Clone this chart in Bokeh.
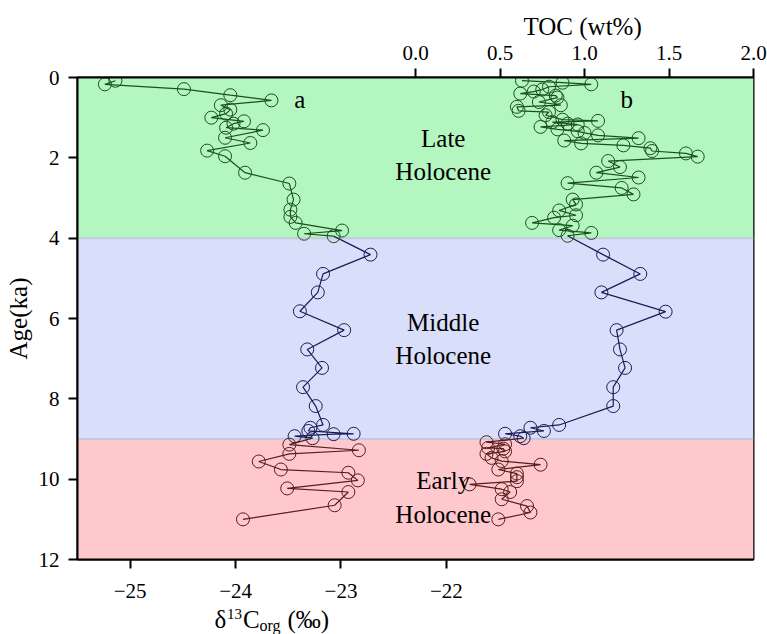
from bokeh.plotting import figure
from bokeh.layouts import column
from bokeh.models import Range1d, LinearAxis, BoxAnnotation, Span, Label, FixedTicker
from bokeh.core.properties import value
from bokeh.embed import file_html
from bokeh.resources import INLINE

# ---- data ----
d13c_late_age = [0.08, 0.17, 0.29, 0.44, 0.57, 0.69, 0.80, 0.90, 1.00, 1.09, 1.15, 1.25, 1.31,
                 1.50, 1.63, 1.82, 1.96, 2.37, 2.64, 3.04, 3.29, 3.47, 3.62, 3.81, 3.89, 3.95]
d13c_late = [-25.14, -25.24, -24.49, -24.05, -23.66, -24.14, -24.05, -24.09, -24.23, -23.92, -24.02,
             -24.09, -23.74, -24.10, -23.86, -24.27, -24.10, -23.91, -23.49, -23.45, -23.48, -23.48,
             -23.43, -22.99, -23.35, -23.07]
d13c_mid_age = [4.41, 4.89, 5.35, 5.82, 6.29, 6.77, 7.23, 7.71, 8.18, 8.65, 8.72, 8.80, 8.87, 8.88, 8.93, 8.98]
d13c_mid = [-22.72, -23.17, -23.22, -23.39, -22.97, -23.32, -23.18, -23.36, -23.24, -23.17, -23.29,
            -23.31, -22.88, -23.07, -23.44, -23.27]
d13c_early_age = [9.14, 9.28, 9.37, 9.56, 9.76, 9.84, 10.03, 10.23, 10.32, 10.65, 11.00]
d13c_early = [-23.49, -22.83, -23.49, -23.78, -23.57, -22.93, -22.84, -23.51, -22.93, -23.06, -23.93]

toc_late_age = [0.08, 0.13, 0.17, 0.23, 0.30, 0.35, 0.40, 0.45, 0.50, 0.61, 0.69, 0.73, 0.83, 0.86,
                0.94, 1.05, 1.08, 1.11, 1.15, 1.17, 1.23, 1.29, 1.34, 1.38, 1.44, 1.51, 1.57, 1.64,
                1.69, 1.76, 1.83, 1.89, 1.97, 2.08, 2.23, 2.37, 2.49, 2.63, 2.75, 2.91, 3.04, 3.16,
                3.31, 3.43, 3.49, 3.62, 3.69, 3.80, 3.87, 3.94]
toc_late = [0.63, 0.87, 1.04, 0.79, 0.75, 0.70, 0.62, 0.83, 0.84, 0.73, 0.86, 0.60, 0.61, 0.79,
            0.77, 0.87, 1.08, 0.81, 0.90, 0.96, 0.74, 0.84, 0.96, 1.00, 1.08, 1.32, 0.88, 0.98,
            1.23, 1.39, 1.40, 1.60, 1.67, 1.14, 1.21, 1.07, 1.32, 0.90, 1.22, 1.29, 0.93, 0.95,
            0.85, 0.95, 0.82, 0.69, 0.93, 0.85, 1.04, 0.90]
toc_mid_age = [4.41, 4.89, 5.35, 5.83, 6.29, 6.77, 7.23, 7.71, 8.18, 8.65, 8.72, 8.80, 8.87, 8.93, 8.98]
toc_mid = [1.11, 1.33, 1.10, 1.48, 1.19, 1.21, 1.24, 1.17, 1.17, 0.85, 0.68, 0.76, 0.53, 0.62, 0.64]
toc_early_age = [9.08, 9.13, 9.22, 9.24, 9.31, 9.37, 9.47, 9.55, 9.64, 9.76, 9.86, 9.95, 10.05,
                 10.13, 10.25, 10.32, 10.50, 10.67, 10.83, 11.00]
toc_early = [0.42, 0.53, 0.43, 0.52, 0.53, 0.42, 0.45, 0.51, 0.74, 0.49, 0.60, 0.60, 0.60,
             0.32, 0.51, 0.56, 0.51, 0.66, 0.68, 0.49]

zones = [(0, 4, "#b3f6c0"), (4, 9, "#d9defa"), (9, 12, "#ffc8cc")]
zone_names = [("Late", "Holocene", 1.51, 2.34), ("Middle", "Holocene", 6.10, 6.91), ("Early", "Holocene", 10.03, 10.88)]
d13c_ticks = [-25, -24, -23, -22]
toc_ticks = [0, 0.5, 1.0, 1.5, 2.0]
age_ticks = [0, 2, 4, 6, 8, 10, 12]
xtitle_main = ["\u03b4", "C", "(\u2030)"]
xtitle_sup = ["13"]
xtitle_sub = ["org"]

SERIF = "Liberation Serif"
C_LATE, C_MID, C_EARLY = "#1d4f1d", "#1c1c55", "#5a1c1c"
X_RANGE = (-25.5, -19.086)

p = figure(width=767, height=604, output_backend="svg", toolbar_location=None,
           x_range=Range1d(*X_RANGE), y_range=Range1d(12, 0),
           min_border_left=77, min_border_right=14, min_border_top=77, min_border_bottom=45)
p.extra_x_ranges = {"toc": Range1d(-2, 2)}
p.xgrid.visible = False
p.ygrid.visible = False
p.outline_line_color = "black"
p.outline_line_width = 2
p.outline_line_alpha = 1
p.background_fill_color = "white"
p.border_fill_color = "white"

bottom = p.below[0]
left = p.left[0]
top = LinearAxis(x_range_name="toc")
p.add_layout(top, "above")

def style_axis(ax):
    ax.axis_line_color = "black"
    ax.axis_line_width = 2
    ax.major_tick_line_width = 2
    ax.major_tick_line_color = "black"
    ax.major_tick_out = 9
    ax.major_tick_in = 0
    ax.minor_tick_out = 0
    ax.minor_tick_in = 0
    ax.minor_tick_line_color = None
    ax.major_label_text_font = SERIF
    ax.major_label_text_font_size = "21px"
    ax.major_label_text_color = "black"
    ax.major_label_standoff = 9
    ax.axis_label_text_font = SERIF
    ax.axis_label_text_font_size = "25px"
    ax.axis_label_text_font_style = "normal"
    ax.axis_label_text_color = "black"

for ax in (bottom, left, top):
    style_axis(ax)

bottom.ticker = FixedTicker(ticks=d13c_ticks)
bottom.major_label_overrides = {t: "\u2212" + str(abs(t)) for t in d13c_ticks}
bottom.major_label_standoff = 15
top.ticker = FixedTicker(ticks=toc_ticks)
top.major_label_overrides = {t: "%.1f" % t for t in toc_ticks}
left.ticker = FixedTicker(ticks=age_ticks)
left.axis_label = "Age(ka)"
left.axis_label_standoff = 4

# top axis title as the plot title, shifted over the 0-2 part of the TOC axis
p.title.text = "TOC (wt%)"
p.title.align = "left"
p.title.offset = 446
p.title.text_font = SERIF
p.title.text_font_size = "25px"
p.title.text_font_style = "normal"
p.title.text_color = "black"
p.title.standoff = 6

for a, b, c in zones:
    p.add_layout(BoxAnnotation(top=a, bottom=b, fill_color=c, fill_alpha=1, line_alpha=0, level="underlay"))
for yb in (4, 9):
    p.add_layout(Span(location=yb, dimension="width", line_color="#c3cadf", line_width=2, level="underlay"))

# delta 13C series
p.line(d13c_late, d13c_late_age, line_color=C_LATE, line_width=1.2)
p.line([d13c_late[-1]] + d13c_mid, [d13c_late_age[-1]] + d13c_mid_age, line_color=C_MID, line_width=1.2)
p.line([d13c_mid[-1]] + d13c_early, [d13c_mid_age[-1]] + d13c_early_age, line_color=C_EARLY, line_width=1.2)
p.scatter(d13c_late, d13c_late_age, marker="circle", size=13, fill_color=None, line_color=C_LATE, line_width=1)
p.scatter(d13c_mid, d13c_mid_age, marker="circle", size=13, fill_color=None, line_color=C_MID, line_width=1)
p.scatter(d13c_early, d13c_early_age, marker="circle", size=13, fill_color=None, line_color=C_EARLY, line_width=1)

# TOC series
p.line(toc_late, toc_late_age, line_color=C_LATE, line_width=1.2, x_range_name="toc")
p.line([toc_late[-1]] + toc_mid, [toc_late_age[-1]] + toc_mid_age, line_color=C_MID, line_width=1.2, x_range_name="toc")
p.line([toc_mid[-1]] + toc_early, [toc_mid_age[-1]] + toc_early_age, line_color=C_EARLY, line_width=1.2, x_range_name="toc")
p.scatter(toc_late, toc_late_age, marker="circle", size=13, fill_color=None, line_color=C_LATE, line_width=1, x_range_name="toc")
p.scatter(toc_mid, toc_mid_age, marker="circle", size=13, fill_color=None, line_color=C_MID, line_width=1, x_range_name="toc")
p.scatter(toc_early, toc_early_age, marker="circle", size=13, fill_color=None, line_color=C_EARLY, line_width=1, x_range_name="toc")

def lab(text, x, y, size="25px", rng="default"):
    p.add_layout(Label(x=x, y=y, text=text, text_font=SERIF, text_font_size=size,
                       text_align="center", text_baseline="middle", text_color="black",
                       x_range_name=rng))

for n1, n2, y1, y2 in zone_names:
    lab(n1, -22.03, y1)
    lab(n2, -22.03, y2)
lab("a", -23.39, 0.54)
lab("b", 1.25, 0.54, rng="toc")

# bottom axis title  δ13Corg (‰)  in a thin strip below the chart; its frame lines up with
# the chart's frame, so x is in the same δ13C units as the bottom axis
q = figure(width=767, height=30, output_backend="svg", toolbar_location=None, title=None,
           x_axis_location=None, y_axis_location=None,
           x_range=Range1d(*X_RANGE), y_range=Range1d(0, 30),
           min_border=0, min_border_left=0, min_border_right=0, min_border_top=0, min_border_bottom=0)
q.xgrid.visible = False
q.ygrid.visible = False
q.outline_line_color = None
q.background_fill_color = "white"
q.border_fill_color = "white"
q.text(x=[-24.20, -23.93, -23.508], y=[15, 15, 15], text=xtitle_main,
       text_font=value(SERIF), text_font_size="25px",
       text_align="left", text_baseline="alphabetic", text_color="black")
q.text(x=[-24.082], y=[25.5], text=xtitle_sup,
       text_font=value(SERIF), text_font_size="15px",
       text_align="left", text_baseline="top", text_color="black")
q.text(x=[-23.773], y=[9], text=xtitle_sub,
       text_font=value(SERIF), text_font_size="16px",
       text_align="left", text_baseline="alphabetic", text_color="black")

layout = column(p, q, spacing=0)
open("out.html", "w").write(file_html(layout, INLINE))
